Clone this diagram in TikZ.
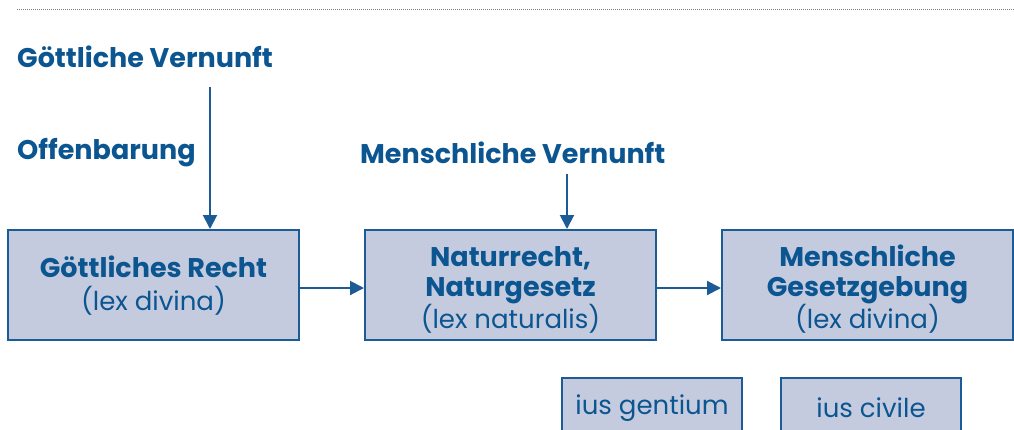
\documentclass[tikz,border=0pt]{standalone}
\usepackage{fontspec}
\setmainfont{Poppins}
\usetikzlibrary{arrows.meta}
\definecolor{tblue}{HTML}{0B5591}
\definecolor{bfill}{HTML}{C5CBDF}
\definecolor{bline}{HTML}{1B5C96}
\newcommand{\bt}[1]{{\bfseries\fontsize{27}{30}\selectfont #1}}
\tikzset{
  lbl/.style={font=\bfseries\fontsize{27}{31}\selectfont, text=tblue, inner sep=0pt},
  box/.style={draw=bline, line width=2pt, fill=bfill,
     minimum width=291pt, minimum height=110pt, inner sep=0pt},
  boxtext/.style={text=tblue, align=center, inner sep=0pt,
     font=\fontsize{26}{30}\selectfont},
  sbox/.style={draw=bline, line width=2pt, fill=bfill, text=tblue,
     minimum width=180pt, minimum height=60pt, inner sep=0pt,
     font=\fontsize{26}{31}\selectfont},
  arr/.style={draw=bline, line width=2pt, -{Triangle[length=14pt,width=14pt]}}
}
\begin{document}
\begin{tikzpicture}[x=1pt,y=1pt]
\useasboundingbox (0,0) rectangle (1014,-429);
\clip (0,0) rectangle (1014,-429);
\draw[gray, line width=0.8pt, dash pattern=on 1pt off 1pt] (17,-9) -- (1014,-9);
\node[lbl, anchor=west] (gv) at (17,-57) {Göttliche Vernunft};
\node[lbl, anchor=west] (off) at (17,-153) {Offenbarung};
\node[lbl, anchor=west] (mv) at (360,-153) {Menschliche Vernunft};
\node[box] (b1) at (153.5,-285) {};
\node[box] (b2) at (510.5,-285) {};
\node[box] (b3) at (867.5,-285) {};
\node[boxtext] (t1) at ([yshift=-1pt]b1.center) {\bt{Göttliches Recht}\\[3pt](lex divina)};
\node[boxtext] (t2) at ([yshift=-5pt]b2.center) {\bt{Naturrecht,}\\\bt{Naturgesetz}\\(lex naturalis)};
\node[boxtext] (t3) at ([yshift=-4pt]b3.center) {\bt{Menschliche}\\\bt{Gesetzgebung}\\(lex divina)};
\node[sbox] (s1) at (652,-408) {ius gentium};
\node[sbox] (s2) at (871,-408) {ius civile};
\coordinate (a1s) at (210,-87);
\coordinate (a2s) at (567,-174);
\draw[arr] (a1s) -- (a1s |- b1.north);
\draw[arr] (a2s) -- (a2s |- b2.north);
\draw[arr] (b1.east |- 0,-288) -- (b2.west |- 0,-288);
\draw[arr] (b2.east |- 0,-288) -- (b3.west |- 0,-288);
\end{tikzpicture}
\end{document}
